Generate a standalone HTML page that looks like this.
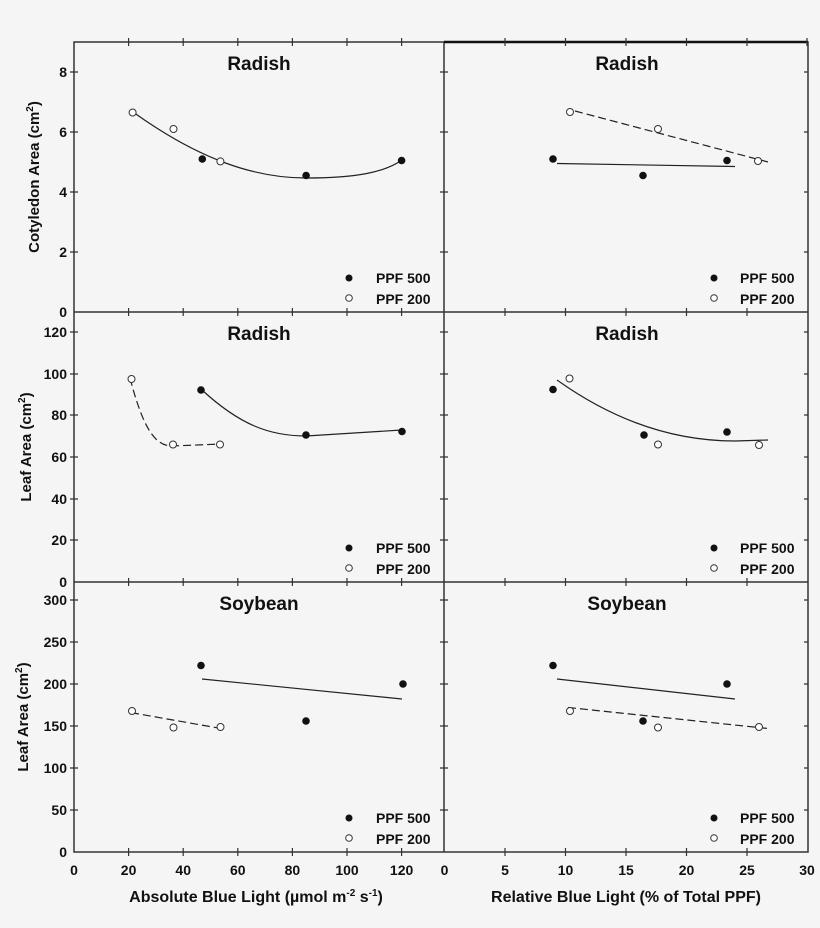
<!DOCTYPE html>
<html><head><meta charset="utf-8"><style>
html,body{margin:0;padding:0;background:#f5f5f5;}
svg{display:block;}
text{font-family:"Liberation Sans",Arial,sans-serif;font-weight:bold;fill:#111;}
</style></head><body>
<svg width="820" height="928" viewBox="0 0 820 928" xmlns="http://www.w3.org/2000/svg">
<rect width="820" height="928" fill="#f5f5f5"/>
<g stroke="#333" stroke-width="1.5" fill="none">
<rect x="74" y="42" width="734" height="810"/>
<line x1="444" y1="42" x2="444" y2="852"/>
<line x1="444" y1="42" x2="808" y2="42" stroke-width="2.5" stroke="#111"/>
<line x1="74" y1="312" x2="808" y2="312"/>
<line x1="74" y1="582" x2="808" y2="582"/>
</g>
<g stroke="#333" stroke-width="1.2">
<!-- x ticks left panels at each row boundary -->
<path d="M128.6,38v8M183.2,38v8M237.8,38v8M292.4,38v8M347,38v8M401.6,38v8
M128.6,308v8M183.2,308v8M237.8,308v8M292.4,308v8M347,308v8M401.6,308v8
M128.6,578v8M183.2,578v8M237.8,578v8M292.4,578v8M347,578v8M401.6,578v8
M128.6,848v8M183.2,848v8M237.8,848v8M292.4,848v8M347,848v8M401.6,848v8"/>
<path d="M505,38v8M565.5,38v8M626,38v8M686.5,38v8M747,38v8M807,38v8
M505,308v8M565.5,308v8M626,308v8M686.5,308v8M747,308v8
M505,578v8M565.5,578v8M626,578v8M686.5,578v8M747,578v8
M505,848v8M565.5,848v8M626,848v8M686.5,848v8M747,848v8"/>
<!-- y ticks -->
<path d="M70,72h8M70,132h8M70,192h8M70,252h8
M70,332h8M70,374h8M70,415h8M70,457h8M70,499h8M70,540h8
M70,600h8M70,642h8M70,684h8M70,726h8M70,768h8M70,810h8"/>
<path d="M440,72h8M440,132h8M440,192h8M440,252h8
M440,332h8M440,374h8M440,415h8M440,457h8M440,499h8M440,540h8
M440,600h8M440,642h8M440,684h8M440,726h8M440,768h8M440,810h8"/>
<path d="M804,72h4M804,132h4M804,192h4M804,252h4
M804,332h4M804,374h4M804,415h4M804,457h4M804,499h4M804,540h4
M804,600h4M804,642h4M804,684h4M804,726h4M804,768h4M804,810h4"/>
</g>
<!-- y tick labels -->
<g font-size="14" text-anchor="end">
<text x="67" y="77">8</text><text x="67" y="137">6</text><text x="67" y="197">4</text><text x="67" y="257">2</text><text x="67" y="317">0</text>
<text x="67" y="337">120</text><text x="67" y="379">100</text><text x="67" y="420">80</text><text x="67" y="462">60</text><text x="67" y="504">40</text><text x="67" y="545">20</text><text x="67" y="587">0</text>
<text x="67" y="605">300</text><text x="67" y="647">250</text><text x="67" y="689">200</text><text x="67" y="731">150</text><text x="67" y="773">100</text><text x="67" y="815">50</text><text x="67" y="857">0</text>
</g>
<g font-size="14" text-anchor="middle">
<text x="74" y="875">0</text><text x="128.6" y="875">20</text><text x="183.2" y="875">40</text><text x="237.8" y="875">60</text><text x="292.4" y="875">80</text><text x="347" y="875">100</text><text x="401.6" y="875">120</text>
<text x="444.5" y="875">0</text><text x="505" y="875">5</text><text x="565.5" y="875">10</text><text x="626" y="875">15</text><text x="686.5" y="875">20</text><text x="747" y="875">25</text><text x="807" y="875">30</text>
</g>
<text x="256" y="902" font-size="16" text-anchor="middle">Absolute Blue Light (µmol m<tspan dy="-6" font-size="10">-2</tspan><tspan dy="6"> s</tspan><tspan dy="-6" font-size="10">-1</tspan><tspan dy="6">)</tspan></text>
<text x="626" y="902" font-size="16" text-anchor="middle">Relative Blue Light (% of Total PPF)</text>
<!-- y titles -->
<text transform="translate(39,177) rotate(-90)" font-size="15" text-anchor="middle">Cotyledon Area (cm<tspan dy="-6" font-size="10">2</tspan><tspan dy="6">)</tspan></text>
<text transform="translate(31,447) rotate(-90)" font-size="15" text-anchor="middle">Leaf Area (cm<tspan dy="-6" font-size="10">2</tspan><tspan dy="6">)</tspan></text>
<text transform="translate(28,717) rotate(-90)" font-size="15" text-anchor="middle">Leaf Area (cm<tspan dy="-6" font-size="10">2</tspan><tspan dy="6">)</tspan></text>
<!-- titles -->
<g font-size="19" text-anchor="middle">
<text x="259" y="70">Radish</text><text x="627" y="70">Radish</text>
<text x="259" y="340">Radish</text><text x="627" y="340">Radish</text>
<text x="259" y="610">Soybean</text><text x="627" y="610">Soybean</text>
</g>
<!-- legends -->
<g font-size="14">
<text x="376" y="283">PPF 500</text><text x="376" y="304">PPF 200</text>
<text x="740" y="283">PPF 500</text><text x="740" y="304">PPF 200</text>
<text x="376" y="553">PPF 500</text><text x="376" y="574">PPF 200</text>
<text x="740" y="553">PPF 500</text><text x="740" y="574">PPF 200</text>
<text x="376" y="823">PPF 500</text><text x="376" y="844">PPF 200</text>
<text x="740" y="823">PPF 500</text><text x="740" y="844">PPF 200</text>
</g>
<g fill="#111">
<circle cx="349" cy="278" r="3.5"/><circle cx="714" cy="278" r="3.5"/>
<circle cx="349" cy="548" r="3.5"/><circle cx="714" cy="548" r="3.5"/>
<circle cx="349" cy="818" r="3.5"/><circle cx="714" cy="818" r="3.5"/>
</g>
<g fill="#fff" stroke="#333" stroke-width="1">
<circle cx="349" cy="298" r="3.3"/><circle cx="714" cy="298" r="3.3"/>
<circle cx="349" cy="568" r="3.3"/><circle cx="714" cy="568" r="3.3"/>
<circle cx="349" cy="838" r="3.3"/><circle cx="714" cy="838" r="3.3"/>
</g>
<!-- curves -->
<g fill="none" stroke="#222" stroke-width="1.2">
<path d="M133,112 C200,160 255,178 306,178 S385,172 402,160"/>
<path d="M557,163.5 L735,166.5"/>
<path d="M575,111 L768,162" stroke-dasharray="8,4"/>
<path d="M130,378 C143,428 155,446 172,446 L221,444" stroke-dasharray="8,4"/>
<path d="M202,390 C240,425 270,436 306,436 L402,430"/>
<path d="M557,380 C620,425 680,441 735,441 L768,440"/>
<path d="M202,679 L402,699"/>
<path d="M131,712.6 L221,728.5" stroke-dasharray="8,4"/>
<path d="M557,679 L735,699"/>
<path d="M568,707.5 L768,728.5" stroke-dasharray="8,4"/>
</g>
<!-- filled points -->
<g fill="#111">
<circle cx="202.3" cy="159" r="3.8"/><circle cx="306.1" cy="175.5" r="3.8"/><circle cx="401.6" cy="160.5" r="3.8"/>
<circle cx="553" cy="159" r="3.8"/><circle cx="643" cy="175.5" r="3.8"/><circle cx="727" cy="160.5" r="3.8"/>
<circle cx="201" cy="390" r="3.8"/><circle cx="306" cy="435" r="3.8"/><circle cx="402" cy="431.5" r="3.8"/>
<circle cx="553" cy="389.5" r="3.8"/><circle cx="644" cy="435" r="3.8"/><circle cx="727" cy="432" r="3.8"/>
<circle cx="201" cy="665.5" r="3.8"/><circle cx="306" cy="721" r="3.8"/><circle cx="403" cy="684" r="3.8"/>
<circle cx="553" cy="665.5" r="3.8"/><circle cx="643" cy="721" r="3.8"/><circle cx="727" cy="684" r="3.8"/>
</g>
<g fill="#fff" stroke="#333" stroke-width="1">
<circle cx="132.6" cy="112.5" r="3.5"/><circle cx="173.5" cy="129" r="3.5"/><circle cx="220.4" cy="161.4" r="3.5"/>
<circle cx="570" cy="112" r="3.5"/><circle cx="658" cy="129" r="3.5"/><circle cx="758" cy="161" r="3.5"/>
<circle cx="131.5" cy="379" r="3.5"/><circle cx="173" cy="444.5" r="3.5"/><circle cx="220" cy="444.5" r="3.5"/>
<circle cx="569.5" cy="378.5" r="3.5"/><circle cx="658" cy="444.5" r="3.5"/><circle cx="759" cy="445" r="3.5"/>
<circle cx="132" cy="711" r="3.5"/><circle cx="173.5" cy="727.5" r="3.5"/><circle cx="220.5" cy="727" r="3.5"/>
<circle cx="570" cy="711" r="3.5"/><circle cx="658" cy="727.5" r="3.5"/><circle cx="759" cy="727" r="3.5"/>
</g>
</svg>
</body></html>
